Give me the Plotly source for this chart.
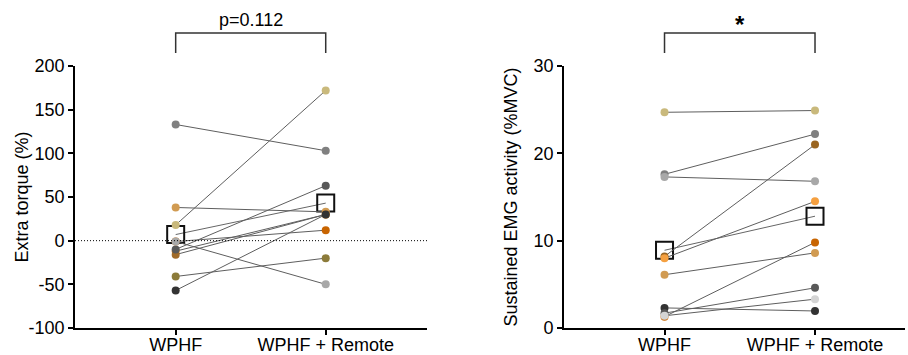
import plotly.graph_objects as go

W, H = 908, 355
conditions = ["WPHF", "WPHF + Remote"]

subject_colors = ["#808080", "#d19b52", "#c9b97c", "#c86400", "#f5a040",
                  "#a06a28", "#8c7b3a", "#333333", "#595959", "#a8a8a8"]

# Left panel: Extra torque (%)
torque_wphf = [133, 38, 18, -1, -12, -16, -41, -57, -10, -1]
torque_remote = [103, 33, 172, 12, 30, 30, -20, 30, 63, -50]
torque_mean = [7, 43]

# Right panel: Sustained EMG activity (%MVC)
emg_colors = ["#c9b97c", "#808080", "#a8a8a8", "#9a6520", "#f5a040",
              "#d19b52", "#c86400", "#333333", "#595959", "#d4d4d4"]
emg_wphf = [24.7, 17.6, 17.3, 8.2, 8.0, 6.1, 1.3, 2.3, 1.7, 1.4]
emg_remote = [24.9, 22.2, 16.8, 21.0, 14.5, 8.6, 9.8, 1.95, 4.6, 3.3]
emg_mean = [8.9, 12.8]

torque_ticks = [-100, -50, 0, 50, 100, 150, 200]
torque_ticktext = ["-100", "-50", "0", "50", "100", "150", "200"]
emg_ticks = [0, 10, 20, 30]
emg_ticktext = ["0", "10", "20", "30"]

FONT = "Arial, Liberation Sans, Helvetica, sans-serif"
FS = 18
fig = go.Figure()

def add_panel(first, second, colors, mean, xa, ya):
    fig.add_trace(go.Scatter(
        x=[0, 1], y=mean, xaxis=xa, yaxis=ya, mode="lines+markers",
        line=dict(color="#666666", width=1),
        marker=dict(symbol="square-open", size=17, color="#111111",
                    line=dict(width=2, color="#111111")),
        showlegend=False, hoverinfo="skip"))
    for a, b, c in zip(first, second, colors):
        fig.add_trace(go.Scatter(
            x=[0, 1], y=[a, b], xaxis=xa, yaxis=ya, mode="lines+markers",
            line=dict(color="#5e5e5e", width=1),
            marker=dict(size=8, color=c),
            showlegend=False))

add_panel(torque_wphf, torque_remote, subject_colors, torque_mean, "x", "y")
add_panel(emg_wphf, emg_remote, emg_colors, emg_mean, "x2", "y2")

def px_x(p):
    return p / W

def px_y(p):
    return 1 - p / H

ydom = [px_y(328), px_y(66)]
axis_common = dict(showline=True, linecolor="black", linewidth=1.8,
                   ticks="outside", ticklen=5, tickwidth=1.6, tickcolor="black",
                   showgrid=False, zeroline=False, automargin=False,
                   tickfont=dict(family=FONT, size=FS, color="black"))
xaxis_extra = dict(ticklabelstandoff=-6)

fig.update_layout(
    template="none",
    width=W, height=H, margin=dict(l=0, r=0, t=0, b=0, autoexpand=False),
    paper_bgcolor="white", plot_bgcolor="white",
    font=dict(family=FONT, size=FS, color="black"),
    xaxis=dict(domain=[px_x(75), px_x(427)], range=[-0.671, 1.675],
               tickvals=[0, 1], ticktext=conditions, anchor="y",
               **axis_common, **xaxis_extra),
    yaxis=dict(domain=ydom, range=[-100, 200], tickvals=torque_ticks,
               ticktext=torque_ticktext,
               anchor="x", title=dict(text="Extra torque (%)",
                                      font=dict(family=FONT, size=FS)),
               **axis_common),
    xaxis2=dict(domain=[px_x(564), px_x(905)], range=[-0.668, 1.598],
                tickvals=[0, 1], ticktext=conditions, anchor="y2",
                **axis_common, **xaxis_extra),
    yaxis2=dict(domain=ydom, range=[0, 30], tickvals=emg_ticks,
                ticktext=emg_ticktext,
                anchor="x2", title=dict(text="Sustained EMG activity (%MVC)",
                                        font=dict(family=FONT, size=FS)),
                **axis_common),
)

# zero reference line (dotted)
fig.add_shape(type="line", xref="x domain", yref="y", x0=0, x1=1, y0=0, y1=0,
              line=dict(color="black", width=1, dash="1px,2px"))

# significance brackets
for xr in ["x", "x2"]:
    fig.add_shape(type="path", xref=xr, yref="paper",
                  path=f"M 0 {px_y(53)} L 0 {px_y(33)} L 1 {px_y(33)} L 1 {px_y(53)}",
                  line=dict(color="#333333", width=1.5))

fig.add_annotation(x=0.5, xref="x", y=px_y(20), yref="paper", text="p=0.112",
                   showarrow=False, yanchor="middle",
                   font=dict(family=FONT, size=FS, color="black"))
fig.add_annotation(x=0.5, xref="x2", y=px_y(24), yref="paper", text="<b>*</b>",
                   showarrow=False, yanchor="middle",
                   font=dict(family=FONT, size=24, color="black"))

fig.write_html("out.html")
